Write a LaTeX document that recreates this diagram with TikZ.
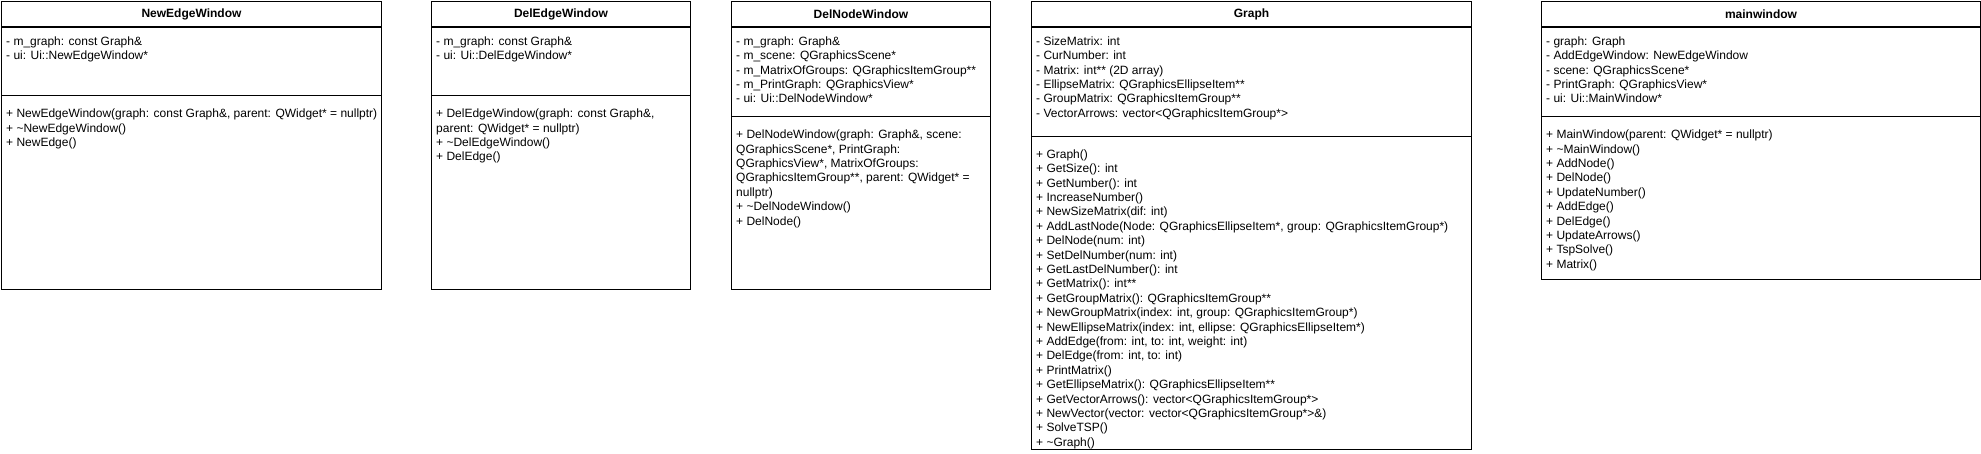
\documentclass[tikz,border=0pt]{standalone}
\usepackage{fontspec}
\setmainfont{Liberation Sans}
\usepackage{tikz}
\usetikzlibrary{positioning}
\tikzset{%
  class box/.style={
    draw,
    fill=white,
    line width=1pt,
    inner sep=0pt,
    anchor=north west
  },
  class head/.style={
    draw,
    line width=1pt,
    inner sep=0pt,
    minimum height=25pt,
    font=\fontsize{12}{14.4}\selectfont\bfseries
  },
  class part/.style={
    draw,
    line width=1pt,
    inner sep=0pt
  },
  class text/.style={
    inner sep=0pt,
    align=left,
    font=\fontsize{12}{14.4}\selectfont
  },
}
\def\tld{\textasciitilde}

\begin{document}
\begin{tikzpicture}[x=1pt,y=1pt]
      \useasboundingbox (0,0) rectangle (1981,-454);

      % NewEdgeWindow
      \def\newedge{NewEdgeWindow}
      \node[class box,minimum width=380pt,minimum height=288pt] (\newedge) at (1,-1) {};
      \node[class head,minimum width=380pt,below=0pt of \newedge.north] (\newedge-head) {\newedge};
      \node[class part,minimum width=380pt,minimum height=68.5pt,below=0pt of \newedge-head] (\newedge-attr) {};
      \node[class text,below right=8pt and 5pt of \newedge-attr.north west] (\newedge-fields) {\strut- m\_graph: const Graph\&\\- ui: Ui::NewEdgeWindow*};
      \node[class text,below right=11pt and 5pt of \newedge-attr.south west] (\newedge-ops) {\strut+ NewEdgeWindow(graph: const Graph\&, parent: QWidget* = nullptr)\\+ \tld NewEdgeWindow()\\+ NewEdge()};

      % DelEdgeWindow
      \def\deledge{DelEdgeWindow}
      \node[class box,minimum width=259pt,minimum height=288pt] (\deledge) at (431,-1) {};
      \node[class head,minimum width=259pt,below=0pt of \deledge.north] (\deledge-head) {\deledge};
      \node[class part,minimum width=259pt,minimum height=68.5pt,below=0pt of \deledge-head] (\deledge-attr) {};
      \node[class text,below right=8pt and 5pt of \deledge-attr.north west] (\deledge-fields) {\strut- m\_graph: const Graph\&\\- ui: Ui::DelEdgeWindow*};
      \node[class text,below right=11pt and 5pt of \deledge-attr.south west] (\deledge-ops) {\strut+ DelEdgeWindow(graph: const Graph\&,\\parent: QWidget* = nullptr)\\+ \tld DelEdgeWindow()\\+ DelEdge()};

      % DelNodeWindow
      \def\delnode{DelNodeWindow}
      \node[class box,minimum width=259pt,minimum height=288pt] (\delnode) at (731,-1) {};
      \node[class head,minimum width=259pt,below=0pt of \delnode.north] (\delnode-head) {\delnode};
      \node[class part,minimum width=259pt,minimum height=89.5pt,below=0pt of \delnode-head] (\delnode-attr) {};
      \node[class text,below right=8pt and 5pt of \delnode-attr.north west] (\delnode-fields) {\strut- m\_graph: Graph\&\\- m\_scene: QGraphicsScene*\\- m\_MatrixOfGroups: QGraphicsItemGroup**\\- m\_PrintGraph: QGraphicsView*\\- ui: Ui::DelNodeWindow*};
      \node[class text,below right=11pt and 5pt of \delnode-attr.south west] (\delnode-ops) {\strut+ DelNodeWindow(graph: Graph\&, scene:\\QGraphicsScene*, PrintGraph:\\QGraphicsView*, MatrixOfGroups:\\QGraphicsItemGroup**, parent: QWidget* =\\nullptr)\\+ \tld DelNodeWindow()\\+ DelNode()};

      % Graph
      \def\graphcls{Graph}
      \node[class box,minimum width=440pt,minimum height=448pt] (\graphcls) at (1031,-1) {};
      \node[class head,minimum width=440pt,below=0pt of \graphcls.north] (\graphcls-head) {\graphcls};
      \node[class part,minimum width=440pt,minimum height=109pt,below=0pt of \graphcls-head] (\graphcls-attr) {};
      \node[class text,below right=8pt and 5pt of \graphcls-attr.north west] (\graphcls-fields) {\strut- SizeMatrix: int\\- CurNumber: int\\- Matrix: int** (2D array)\\- EllipseMatrix: QGraphicsEllipseItem**\\- GroupMatrix: QGraphicsItemGroup**\\- VectorArrows: vector<QGraphicsItemGroup*>};
      \node[class text,below right=11pt and 5pt of \graphcls-attr.south west] (\graphcls-ops) {\strut+ Graph()\\+ GetSize(): int\\+ GetNumber(): int\\+ IncreaseNumber()\\+ NewSizeMatrix(dif: int)\\+ AddLastNode(Node: QGraphicsEllipseItem*, group: QGraphicsItemGroup*)\\+ DelNode(num: int)\\+ SetDelNumber(num: int)\\+ GetLastDelNumber(): int\\+ GetMatrix(): int**\\+ GetGroupMatrix(): QGraphicsItemGroup**\\+ NewGroupMatrix(index: int, group: QGraphicsItemGroup*)\\+ NewEllipseMatrix(index: int, ellipse: QGraphicsEllipseItem*)\\+ AddEdge(from: int, to: int, weight: int)\\+ DelEdge(from: int, to: int)\\+ PrintMatrix()\\+ GetEllipseMatrix(): QGraphicsEllipseItem**\\+ GetVectorArrows(): vector<QGraphicsItemGroup*>\\+ NewVector(vector: vector<QGraphicsItemGroup*>\&)\\+ SolveTSP()\\+ \tld Graph()};

      % mainwindow
      \def\mainwin{mainwindow}
      \node[class box,minimum width=439pt,minimum height=278pt] (\mainwin) at (1541,-1) {};
      \node[class head,minimum width=439pt,below=0pt of \mainwin.north] (\mainwin-head) {\mainwin};
      \node[class part,minimum width=439pt,minimum height=89.5pt,below=0pt of \mainwin-head] (\mainwin-attr) {};
      \node[class text,below right=8pt and 5pt of \mainwin-attr.north west] (\mainwin-fields) {\strut- graph: Graph\\- AddEdgeWindow: NewEdgeWindow\\- scene: QGraphicsScene*\\- PrintGraph: QGraphicsView*\\- ui: Ui::MainWindow*};
      \node[class text,below right=11pt and 5pt of \mainwin-attr.south west] (\mainwin-ops) {\strut+ MainWindow(parent: QWidget* = nullptr)\\+ \tld MainWindow()\\+ AddNode()\\+ DelNode()\\+ UpdateNumber()\\+ AddEdge()\\+ DelEdge()\\+ UpdateArrows()\\+ TspSolve()\\+ Matrix()};
\end{tikzpicture}
\end{document}
